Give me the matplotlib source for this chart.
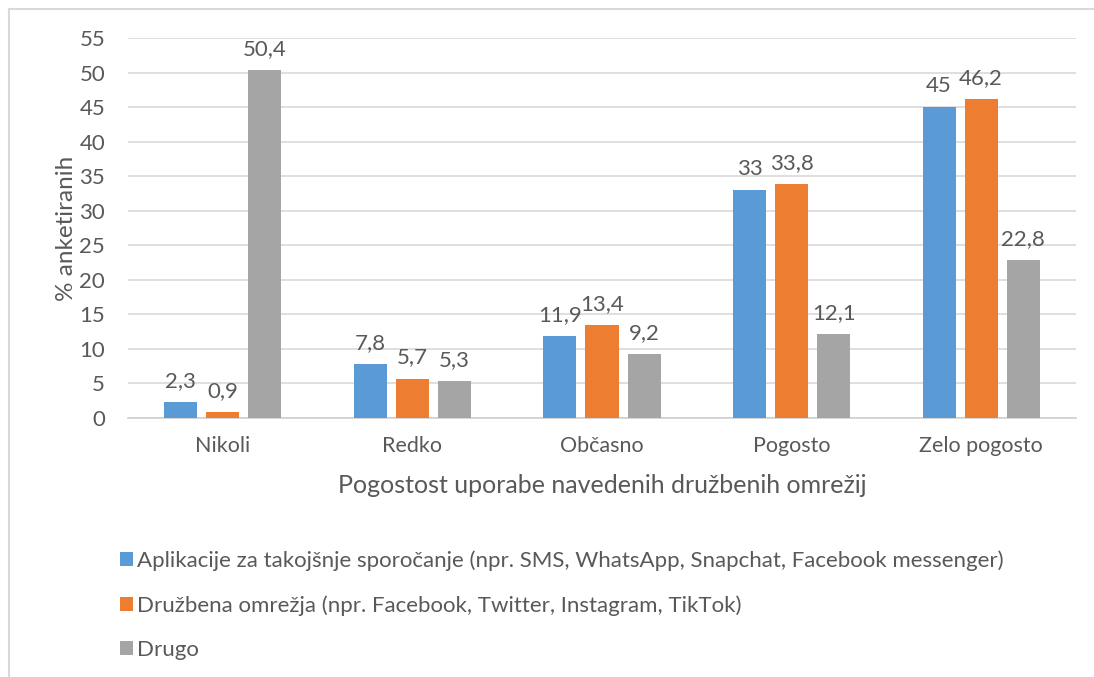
import matplotlib.pyplot as plt
import numpy as np
from matplotlib.lines import Line2D
from matplotlib.patches import Patch

plt.rcParams['font.family'] = ['Lato', 'DejaVu Sans']

kategorije = ['Nikoli', 'Redko', 'Občasno', 'Pogosto', 'Zelo pogosto']
aplikacije = [2.3, 7.8, 11.9, 33, 45]
omrezja = [0.9, 5.7, 13.4, 33.8, 46.2]
drugo = [50.4, 5.3, 9.2, 12.1, 22.8]
serije = ['Aplikacije za takojšnje sporočanje (npr. SMS, WhatsApp, Snapchat, Facebook messenger)',
          'Družbena omrežja (npr. Facebook, Twitter, Instagram, TikTok)',
          'Drugo']
barve = ['#5B9BD5', '#ED7D31', '#A5A5A5']
besedilo = '#595959'

fig = plt.figure(figsize=(10.94, 6.77), dpi=100)
ax = fig.add_axes([128/1094, 1 - 418/677, (1076 - 128)/1094, 380/677])

x = np.arange(len(kategorije))
sirina = 33/189
korak = 42/189
for i, (vrednosti, barva) in enumerate(zip([aplikacije, omrezja, drugo], barve)):
    pos = x + (i - 1) * korak
    ax.bar(pos, vrednosti, width=sirina, color=barva, zorder=3)
    for px, v in zip(pos, vrednosti):
        lab = f'{v:g}'.replace('.', ',')
        ax.annotate(lab, (px, v), xytext=(0, 8), textcoords='offset points',
                    ha='center', va='bottom', fontsize=16, color=besedilo)

ax.set_xlim(-0.5, 4.5)
ax.set_ylim(0, 55)
ax.set_yticks(range(0, 56, 5))
ax.set_xticks(x)
ax.set_xticklabels(kategorije)
ax.yaxis.grid(True, color='#d9d9d9', linewidth=1.2, zorder=0)
for s in ['top', 'right', 'left']:
    ax.spines[s].set_visible(False)
ax.spines['bottom'].set_color('#d0d0d0')
ax.spines['bottom'].set_linewidth(1.2)
ax.tick_params(axis='both', length=0, labelsize=15.5, colors=besedilo)
ax.tick_params(axis='y', labelsize=16, pad=16.5)
ax.tick_params(axis='x', pad=13)

ax.set_ylabel('% anketiranih', fontsize=17.5, color=besedilo, labelpad=2)
ax.set_xlabel('Pogostost uporabe navedenih družbenih omrežij', fontsize=18,
              color=besedilo, labelpad=13)

rocaji = [Patch(facecolor=b, edgecolor='none') for b in barve]
fig.legend(rocaji, serije, loc='upper left', bbox_to_anchor=(109/1094, 1 - 539/677),
           frameon=False, fontsize=16, labelcolor=besedilo, handlelength=0.6,
           handleheight=0.6, handletextpad=0.15, labelspacing=1.1, borderpad=0)

# okvir grafikona (vidna sta samo levi in zgornji rob)
fig.add_artist(Line2D([9/1094, 9/1094], [0, 1 - 9/677], color='#d9d9d9', lw=1.5,
                      transform=fig.transFigure))
fig.add_artist(Line2D([9/1094, 1], [1 - 9/677, 1 - 9/677], color='#d9d9d9', lw=1.5,
                      transform=fig.transFigure))

fig.savefig('out.png', dpi=100)
